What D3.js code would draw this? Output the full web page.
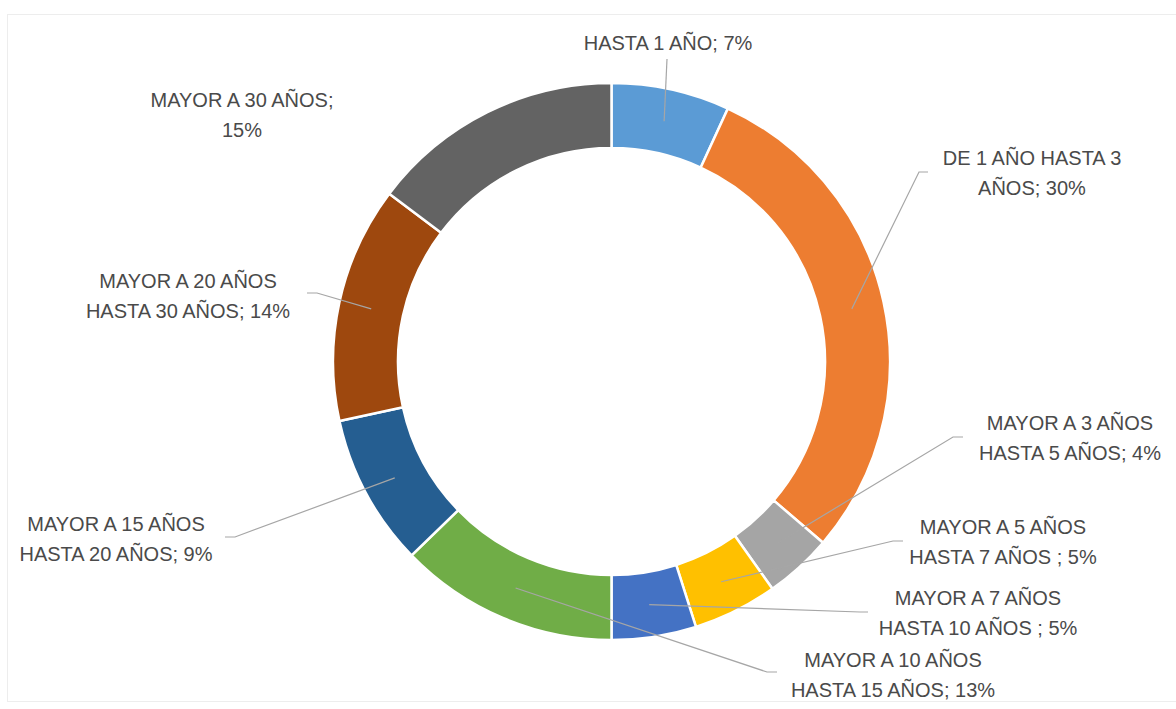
<!DOCTYPE html>
<html>
<head>
<meta charset="utf-8">
<script src="https://cdn.jsdelivr.net/npm/d3@7"></script>
<style>
  html, body { margin: 0; padding: 0; background: #ffffff; }
  svg { display: block; }
</style>
</head>
<body>
<svg id="chart" width="1176" height="709"></svg>
<script>
// ---- data ----
const categories = [
  "HASTA 1 AÑO",
  "DE 1 AÑO HASTA 3 AÑOS",
  "MAYOR A 3 AÑOS HASTA 5 AÑOS",
  "MAYOR A 5 AÑOS HASTA 7 AÑOS ",
  "MAYOR A 7 AÑOS HASTA 10 AÑOS ",
  "MAYOR A 10 AÑOS HASTA 15 AÑOS",
  "MAYOR A 15 AÑOS HASTA 20 AÑOS",
  "MAYOR A 20 AÑOS HASTA 30 AÑOS",
  "MAYOR A 30 AÑOS"
];
const values = [7, 30, 4, 5, 5, 13, 9, 14, 15];
const labelLines = [
  ["HASTA 1 AÑO; 7%"],
  ["DE 1 AÑO HASTA 3", "AÑOS; 30%"],
  ["MAYOR A 3 AÑOS", "HASTA 5 AÑOS; 4%"],
  ["MAYOR A 5 AÑOS", "HASTA 7 AÑOS ; 5%"],
  ["MAYOR A 7 AÑOS", "HASTA 10 AÑOS ; 5%"],
  ["MAYOR A 10 AÑOS", "HASTA 15 AÑOS; 13%"],
  ["MAYOR A 15 AÑOS", "HASTA 20 AÑOS; 9%"],
  ["MAYOR A 20 AÑOS", "HASTA 30 AÑOS; 14%"],
  ["MAYOR A 30 AÑOS;", "15%"]
];

// ---- styles / layout ----
const colors = ["#5B9BD5", "#ED7D31", "#A5A5A5", "#FFC000", "#4472C4",
                "#70AD47", "#255E91", "#9E480E", "#636363"];
const cx = 611.5, cy = 361.5, rOuter = 278.5, rInner = 213.5;
// label centre (x, y of first line) and leader start/elbow on the label side
const labelPos = [
  {x: 668, y: 43,  lead: [[667, 59]]},
  {x: 1032, y: 158, lead: [[928, 172], [919, 172]]},
  {x: 1070, y: 423, lead: [[963, 437], [953, 437]]},
  {x: 1003, y: 527, lead: [[903, 541], [893, 541]]},
  {x: 978, y: 598,  lead: [[868, 612], [860, 612]]},
  {x: 893, y: 660,  lead: [[777, 672], [767, 672]]},
  {x: 116, y: 524,  lead: [[225, 537], [235, 537]]},
  {x: 188, y: 281,  lead: [[307, 293], [317, 293]]},
  {x: 242, y: 100,  lead: null}
];
const lineHeight = 30;

const svg = d3.select("#chart");

// faint chart-area border
svg.append("rect")
  .attr("x", 7.5).attr("y", 14.5).attr("width", 1180).attr("height", 687)
  .attr("fill", "none").attr("stroke", "#ededed").attr("stroke-width", 1);

const pie = d3.pie().sort(null).value(d => d);
const arcs = pie(values);
const arc = d3.arc().innerRadius(rInner).outerRadius(rOuter);
const midArc = d3.arc().innerRadius((rInner + rOuter) / 2 + 13).outerRadius((rInner + rOuter) / 2 - 13);

const g = svg.append("g").attr("transform", `translate(${cx},${cy})`);
g.selectAll("path.slice")
  .data(arcs)
  .join("path")
  .attr("class", "slice")
  .attr("d", arc)
  .attr("fill", (d, i) => colors[i])
  .attr("stroke", "#ffffff")
  .attr("stroke-width", 2.5)
  .attr("stroke-linejoin", "miter");

// leader lines
const line = d3.line();
arcs.forEach((d, i) => {
  const lp = labelPos[i];
  if (!lp.lead) return;
  const c = midArc.centroid(d);
  const pts = lp.lead.map(p => [p[0], p[1]]).concat([[cx + c[0], cy + c[1]]]);
  svg.append("path")
    .attr("d", line(pts))
    .attr("fill", "none")
    .attr("stroke", "#a6a6a6")
    .attr("stroke-width", 1.2);
});

// labels
arcs.forEach((d, i) => {
  const lp = labelPos[i];
  const t = svg.append("text")
    .attr("text-anchor", "middle")
    .attr("font-family", "'Liberation Sans', Arial, sans-serif")
    .attr("font-size", 20)
    .attr("fill", "#4a4a4a");
  labelLines[i].forEach((s, k) => {
    t.append("tspan")
      .attr("x", lp.x)
      .attr("y", lp.y + k * lineHeight)
      .attr("dy", "0.36em")
      .text(s);
  });
});
</script>
</body>
</html>
